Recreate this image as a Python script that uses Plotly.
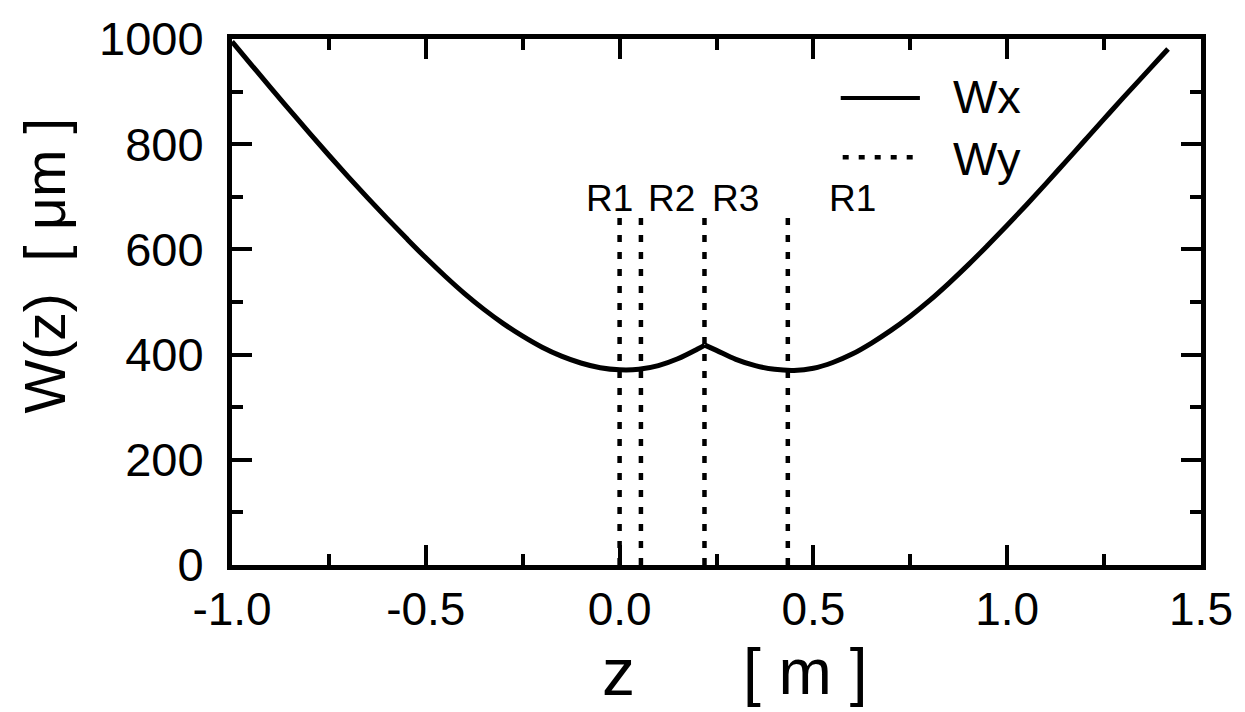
import plotly.graph_objects as go

# ---- data ----
# Wx, branch left of the cusp (z in m, W in µm)
z_left = [-1.00, -0.95, -0.90, -0.85, -0.80, -0.75, -0.70, -0.65, -0.60, -0.55,
          -0.50, -0.45, -0.40, -0.35, -0.30, -0.25, -0.20, -0.15, -0.10, -0.05,
          0.00, 0.05, 0.10, 0.15, 0.20, 0.22]
w_left = [995, 951, 907, 864, 821, 779, 738, 698, 659, 621,
          584, 549, 516, 486, 459, 435, 414, 397, 384, 375,
          371, 372, 379, 392, 410, 418]
# Wx, branch right of the cusp
z_right = [0.22, 0.25, 0.30, 0.35, 0.40, 0.45, 0.50, 0.55, 0.60, 0.65, 0.70,
           0.75, 0.80, 0.85, 0.90, 0.95, 1.00, 1.05, 1.10, 1.15, 1.20,
           1.25, 1.30, 1.35, 1.40, 1.415]
w_right = [418, 408, 391, 379, 372, 370, 374, 385, 401, 422, 446,
           473, 503, 536, 571, 608, 646, 685, 725, 766, 807,
           848, 889, 929, 969, 981]

marker_z = [0.0, 0.055, 0.219, 0.434]      # R1, R2, R3, R1 positions
marker_top = 668                           # top of the dotted markers (W units)
label_text = ["R1", "R2", "R3", "R1"]
label_z = [-0.026, 0.135, 0.298, 0.600]
label_w = 697

x_ticks = [-1.0, -0.5, 0.0, 0.5, 1.0, 1.5]
x_ticktext = ["-1.0", "-0.5", "0.0", "0.5", "1.0", "1.5"]
y_ticks = [0, 200, 400, 600, 800, 1000]

FONT = "Liberation Sans, Arial, sans-serif"

fig = go.Figure()

for zs, ws in ((z_left, w_left), (z_right, w_right)):
    fig.add_trace(go.Scatter(x=zs, y=ws, mode="lines",
                             line=dict(color="black", width=5, shape="spline", smoothing=1.0),
                             showlegend=False, name="Wx"))

vx, vy = [], []
for zm in marker_z:
    vx += [zm, zm, None]
    vy += [0, marker_top, None]
fig.add_trace(go.Scatter(x=vx, y=vy, mode="lines",
                         line=dict(color="black", width=4.5, dash="7px,10px"),
                         showlegend=False, name="Wy"))

annotations = []
for t, zx in zip(label_text, label_z):
    annotations.append(dict(x=zx, y=label_w, xref="x", yref="y", text=t,
                            showarrow=False, xanchor="center", yanchor="middle",
                            font=dict(family=FONT, size=37, color="black")))

# manual legend
fig.add_shape(type="line", xref="paper", yref="paper",
              x0=(847 - 232) / 979, x1=(927 - 232) / 979,
              y0=(565 - 91) / 534, y1=(565 - 91) / 534,
              line=dict(color="black", width=4))
fig.add_shape(type="line", xref="paper", yref="paper",
              x0=(849 - 232) / 979, x1=(927 - 232) / 979,
              y0=(565 - 151) / 534, y1=(565 - 151) / 534,
              line=dict(color="black", width=4.5, dash="6px,10px"))
annotations.append(dict(x=(958 - 232) / 979, y=(565 - 89) / 534, xref="paper", yref="paper",
                        text="Wx", showarrow=False, xanchor="left", yanchor="middle",
                        font=dict(family=FONT, size=47, color="black")))
annotations.append(dict(x=(958 - 232) / 979, y=(565 - 152) / 534, xref="paper", yref="paper",
                        text="Wy", showarrow=False, xanchor="left", yanchor="middle",
                        font=dict(family=FONT, size=47, color="black")))

# axis titles
annotations.append(dict(x=(43 - 232) / 979, y=(565 - 261) / 534, xref="paper", yref="paper",
                        text="W(z)  [ μm ]", textangle=-90, showarrow=False,
                        xanchor="center", yanchor="middle",
                        font=dict(family=FONT, size=57, color="black")))
annotations.append(dict(x=(622 - 232) / 979, y=(565 - 674) / 534, xref="paper", yref="paper",
                        text="z", showarrow=False, xanchor="center", yanchor="middle",
                        font=dict(family=FONT, size=66, color="black")))
annotations.append(dict(x=(811 - 232) / 979, y=(565 - 674) / 534, xref="paper", yref="paper",
                        text="[ m ]", showarrow=False, xanchor="center", yanchor="middle",
                        font=dict(family=FONT, size=64, color="black")))

axis_common = dict(showline=True, linecolor="black", linewidth=5, mirror="allticks",
                   ticks="inside", ticklen=20, tickwidth=4, tickcolor="black",
                   showgrid=False, zeroline=False)

fig.update_layout(
    width=1245, height=712,
    margin=dict(l=232, r=34, t=31, b=147),
    paper_bgcolor="white", plot_bgcolor="white",
    annotations=annotations,
    xaxis=dict(range=[-1.0, 1.5], tickvals=x_ticks, ticktext=x_ticktext,
               tickfont=dict(family=FONT, size=46, color="black"),
               minor=dict(ticks="inside", dtick=0.25, tick0=0, ticklen=11, tickwidth=4,
                          tickcolor="black", showgrid=False),
               **axis_common),
    yaxis=dict(range=[0, 1000], tickvals=y_ticks,
               tickfont=dict(family=FONT, size=47, color="black"),
               ticklabelstandoff=14,
               minor=dict(ticks="inside", dtick=100, tick0=0, ticklen=11, tickwidth=4,
                          tickcolor="black", showgrid=False),
               **axis_common),
)

fig.write_html("out.html")
